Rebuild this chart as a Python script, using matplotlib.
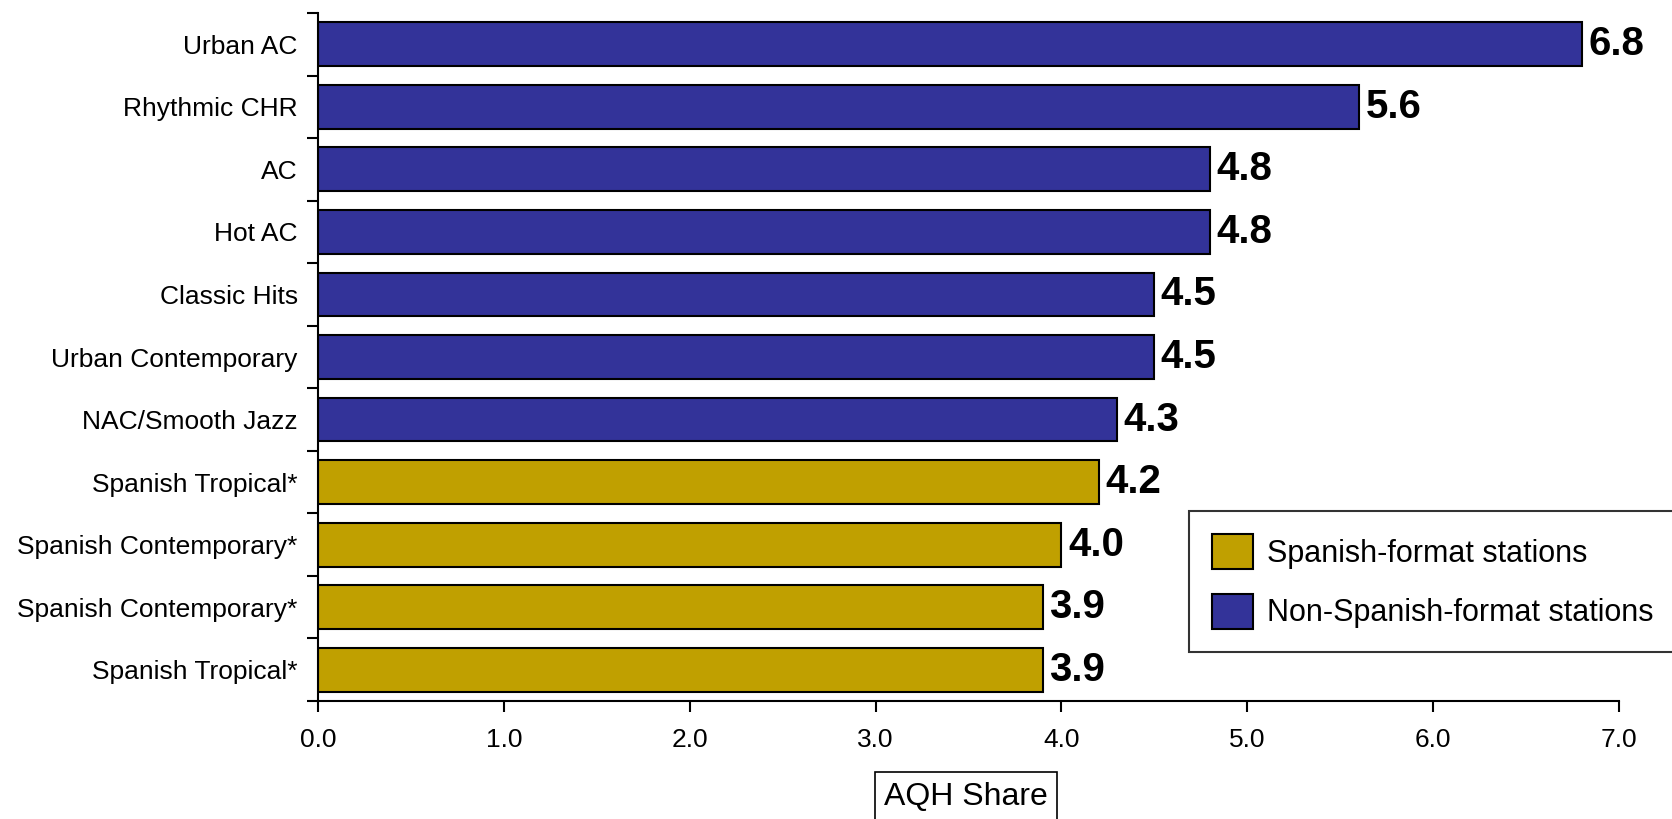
import matplotlib
matplotlib.use("Agg")
import matplotlib.pyplot as plt
from matplotlib.patches import Patch
import numpy as np

plt.rcParams['font.family'] = ['Liberation Sans', 'DejaVu Sans']

categories = ["Urban AC", "Rhythmic CHR", "AC", "Hot AC", "Classic Hits",
              "Urban Contemporary", "NAC/Smooth Jazz", "Spanish Tropical*",
              "Spanish Contemporary*", "Spanish Contemporary*", "Spanish Tropical*"]
values = [6.8, 5.6, 4.8, 4.8, 4.5, 4.5, 4.3, 4.2, 4.0, 3.9, 3.9]
is_spanish = [False, False, False, False, False, False, False, True, True, True, True]
xticks = [0.0, 1.0, 2.0, 3.0, 4.0, 5.0, 6.0, 7.0]

BLUE = "#333399"
GOLD = "#C0A000"

fig = plt.figure(figsize=(16.72, 8.19), dpi=100)
ax = fig.add_axes([318/1672, 1 - 701/819, (1619-318)/1672, (701-13)/819])

n = len(categories)
y = np.arange(n)
colors = [GOLD if s else BLUE for s in is_spanish]
ax.barh(y, values, height=0.7, color=colors, edgecolor="black", linewidth=1.5)
ax.set_ylim(n - 0.5, -0.5)
ax.set_xlim(0, 7.0)

for yi, v in zip(y, values):
    ax.text(v + 0.035, yi, f"{v:.1f}", va="center", ha="left",
            fontsize=29, fontweight="bold")

ax.set_yticks(y)
ax.set_yticklabels(categories, fontsize=19)
ax.tick_params(axis="y", which="major", length=0, pad=14.5)
ax.set_yticks(np.arange(-0.5, n, 1.0), minor=True)
ax.tick_params(axis="y", which="minor", length=8, width=1.5, direction="out")

ax.set_xticks(xticks)
ax.set_xticklabels([f"{t:.1f}" for t in xticks], fontsize=19)
ax.tick_params(axis="x", which="major", length=8, width=1.5, direction="out", pad=11.5)

for s in ["top", "right"]:
    ax.spines[s].set_visible(False)
for s in ["left", "bottom"]:
    ax.spines[s].set_linewidth(1.5)

fig.text(966/1672, 1 - 797/819, "AQH Share", ha="center", va="center", fontsize=23,
         bbox=dict(boxstyle="square,pad=0.3", facecolor="white", edgecolor="black", linewidth=1.2))

handles = [Patch(facecolor=GOLD, edgecolor="black", linewidth=1.5, label="Spanish-format stations"),
           Patch(facecolor=BLUE, edgecolor="black", linewidth=1.5, label="Non-Spanish-format stations")]
leg = fig.legend(handles=handles, loc="upper left", bbox_to_anchor=(1189/1672, 1 - 511/819),
                 fontsize=22, frameon=True, fancybox=False, handlelength=1.35, handleheight=1.4,
                 borderpad=0.75, labelspacing=0.8, handletextpad=0.45, borderaxespad=0)
leg.get_frame().set_edgecolor("black")
leg.get_frame().set_linewidth(1.5)

fig.savefig("out.png", dpi=100)
